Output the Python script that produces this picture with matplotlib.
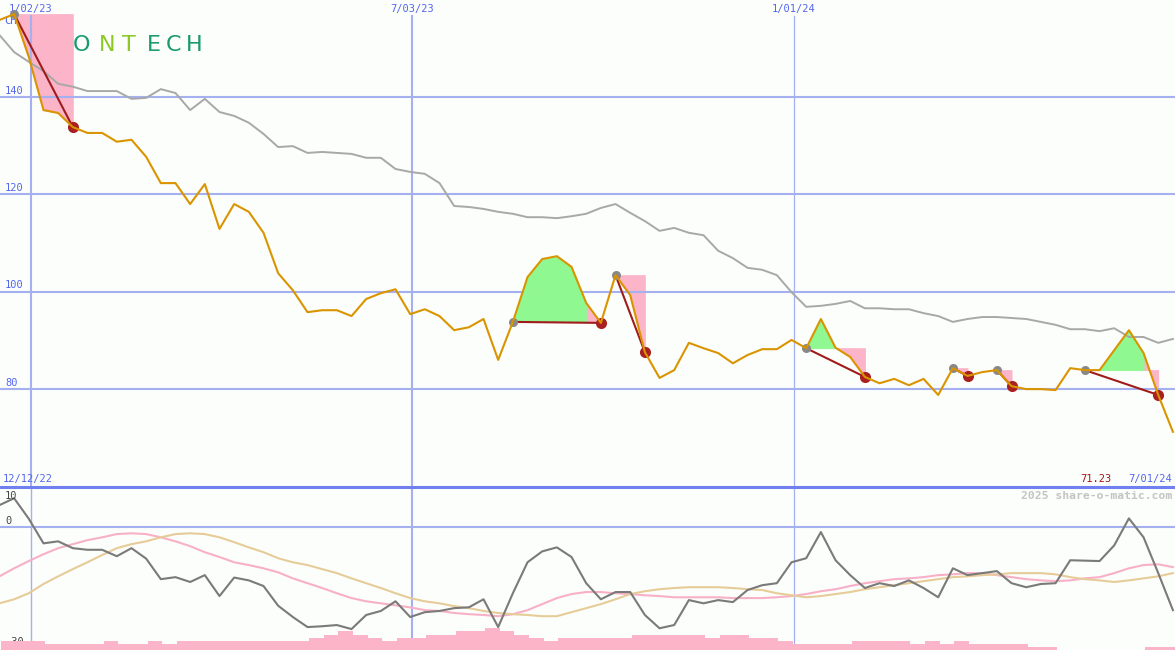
import numpy as np
import matplotlib
matplotlib.use("Agg")
import matplotlib.pyplot as plt
import matplotlib.dates as mdates
from matplotlib.lines import Line2D

# weekly closes, 12/18/22 .. 6/30/24
weeks = np.datetime64("2022-12-18") + np.arange(81) * np.timedelta64(7, "D")

price = [
    155.8, 157.0, 148.2, 137.3, 136.7, 133.8, 132.6, 132.6, 130.8, 131.2,
    127.7, 122.3, 122.3, 118.0, 122.1, 112.9, 118.0, 116.4, 112.1, 103.8,
    100.3, 95.8, 96.2, 96.2, 95.0, 98.5, 99.7, 100.5, 95.4, 96.4,
    95.0, 92.1, 92.7, 94.4, 86.0, 93.8, 103.0, 106.7, 107.3, 105.1,
    97.7, 93.6, 103.4, 99.3, 87.6, 82.3, 83.9, 89.5, 88.4, 87.4,
    85.3, 87.0, 88.2, 88.2, 90.1, 88.4, 94.4, 88.5, 86.6, 82.5,
    81.2, 82.1, 80.8, 82.1, 78.8, 84.3, 82.7, 83.5, 83.9, 80.6,
    80.0, 80.0, 79.8, 84.3, 83.9, 83.9, 88.0, 92.1, 87.4, 78.8,
    71.23,
]

bench = [
    152.7, 149.2, 147.2, 145.3, 142.7, 142.1, 141.2, 141.2, 141.2, 139.6,
    139.8, 141.6, 140.8, 137.3, 139.6, 136.9, 136.1, 134.7, 132.4, 129.7,
    129.9, 128.5, 128.7, 128.5, 128.3, 127.5, 127.5, 125.2, 124.6, 124.2,
    122.3, 117.6, 117.4, 117.0, 116.4, 116.0, 115.3, 115.3, 115.1, 115.5,
    116.0, 117.2, 118.0, 116.2, 114.5, 112.5, 113.1, 112.1, 111.6, 108.4,
    106.9, 104.9, 104.5, 103.4, 99.9, 96.9, 97.1, 97.5, 98.1, 96.6,
    96.6, 96.4, 96.4, 95.6, 95.0, 93.8, 94.4, 94.8, 94.8, 94.6,
    94.4, 93.8, 93.2, 92.3, 92.3, 91.9, 92.5, 90.7, 90.7, 89.5,
    90.3,
]

momentum = [
    5.5, 7.2, 2.1, -4.0, -3.5, -5.2, -5.6, -5.6, -7.2, -5.2,
    -7.8, -12.9, -12.4, -13.6, -11.9, -17.1, -12.5, -13.2, -14.6, -19.5,
    -22.3, -24.8, -24.6, -24.3, -25.3, -21.8, -20.8, -18.4, -22.3, -21.1,
    -20.8, -20.1, -19.9, -17.9, -24.8, -16.4, -8.7, -6.0, -5.0, -7.4,
    -13.9, -17.9, -16.1, -16.1, -21.8, -25.1, -24.3, -18.1, -18.9, -18.1,
    -18.6, -15.6, -14.4, -13.9, -8.7, -7.7, -1.2, -8.2, -11.9, -15.1,
    -13.9, -14.6, -13.2, -15.1, -17.4, -10.2, -11.9, -11.4, -10.9, -13.9,
    -14.9, -14.1, -13.9, -8.2, -8.3, -8.4, -4.5, 2.2, -2.5, -11.4,
    -20.6,
]

signal_fast = [
    -12.2, -10.2, -8.4, -6.7, -5.2, -4.2, -3.2, -2.5, -1.7, -1.5,
    -1.7, -2.5, -3.5, -4.7, -6.2, -7.4, -8.7, -9.4, -10.2, -11.2,
    -12.7, -13.9, -15.1, -16.4, -17.6, -18.4, -18.9, -19.4, -19.9, -20.6,
    -20.8, -21.3, -21.6, -21.8, -22.1, -21.6, -20.6, -19.1, -17.6, -16.6,
    -16.1, -16.1, -16.4, -16.6, -16.9, -17.1, -17.4, -17.4, -17.4, -17.4,
    -17.6, -17.6, -17.6, -17.4, -17.1, -16.6, -15.9, -15.4, -14.6, -13.9,
    -13.4, -12.9, -12.7, -12.4, -11.9, -11.7, -11.4, -11.4, -11.9, -12.4,
    -12.9, -13.2, -13.4, -13.2, -12.7, -12.4, -11.4, -10.2, -9.4, -9.2,
    -9.9,
]

signal_slow = [
    -18.9, -17.9, -16.4, -14.1, -12.2, -10.4, -8.7, -6.9, -5.2, -4.2,
    -3.5, -2.5, -1.7, -1.5, -1.7, -2.5, -3.7, -5.0, -6.2, -7.7,
    -8.7, -9.4, -10.4, -11.4, -12.7, -13.9, -15.1, -16.4, -17.6, -18.4,
    -18.9, -19.6, -20.1, -20.8, -21.3, -21.6, -21.8, -22.1, -22.1, -21.1,
    -20.1, -19.1, -17.9, -16.6, -15.9, -15.4, -15.1, -14.9, -14.9, -14.9,
    -15.1, -15.4, -15.6, -16.4, -16.9, -17.4, -17.1, -16.6, -16.1, -15.4,
    -14.9, -14.4, -13.9, -13.4, -12.9, -12.4, -12.2, -11.9, -11.7, -11.4,
    -11.4, -11.4, -11.7, -12.4, -12.9, -13.2, -13.6, -13.2, -12.7, -12.2,
    -11.4,
]

volume = [
    3, 3, 3, 2, 2, 2, 2, 3, 2, 2,
    3, 2, 3, 3, 3, 3, 3, 3, 3, 3,
    3, 4, 5, 6, 5, 4, 3, 4, 4, 5,
    5, 6, 6, 7, 6, 5, 4, 3, 4, 4,
    4, 4, 4, 5, 5, 5, 5, 5, 4, 5,
    5, 4, 4, 3, 2, 2, 2, 2, 3, 3,
    3, 3, 2, 3, 2, 3, 2, 2, 2, 2,
    1, 1, 0, 0, 0, 0, 0, 0, 1, 1,
    1,
]

# (entry week, exit week)
trades = [(1, 5), (35, 41), (42, 44), (55, 59), (65, 66), (68, 69), (74, 79)]

price_levels = [80, 100, 120, 140]
grid_dates = ["2023-01-02", "2023-07-03", "2024-01-01"]
grid_labels = ["1/02/23", "7/03/23", "1/01/24"]

bg = "#fcfefb"
grid_c = "#a4b0f0"
label_c = "#5466ee"
pink = "#fbb4c8"
green = "#90f890"
mono = "DejaVu Sans Mono"

x = mdates.date2num(weeks)
gx = mdates.date2num(np.array(grid_dates, dtype="datetime64[D]"))
x0 = mdates.date2num(np.datetime64("2022-12-18T06:00"))
x1 = mdates.date2num(np.datetime64("2024-07-01"))

fig = plt.figure(figsize=(11.75, 6.5), dpi=100)
fig.patch.set_facecolor(bg)

ax = fig.add_axes([0, 163 / 650, 1, 487 / 650])
ax2 = fig.add_axes([0, 0, 1, 163 / 650])
for a in (ax, ax2):
    a.set_facecolor(bg)
    a.set_xlim(x0, x1)
    a.set_xticks([])
    a.set_yticks([])
    for s in a.spines.values():
        s.set_visible(False)

# ---- main panel ----
ax.set_ylim(59.9, 159.9)
for lv in price_levels:
    ax.axhline(lv, color=grid_c, lw=1.5, zorder=1.5)
    ax.text(5 / 1175, lv + 1.3, str(lv), transform=ax.get_yaxis_transform(),
            fontsize=7.5, family=mono, color=label_c, va="center", zorder=1.5)
for xv, lw in zip(gx, [1.5, 1.5, 0.9]):
    ax.axvline(xv, ymax=1 - 16 / 487, color=grid_c, lw=lw, zorder=1.5)
for xv, lab in zip(gx, grid_labels):
    ax.text(xv, 1 - 9 / 487, lab, transform=ax.get_xaxis_transform(),
            fontsize=7.5, family=mono, color=label_c, ha="center", va="center")

ax.text(4 / 1175, 155.6, "CHF", transform=ax.get_yaxis_transform(),
        fontsize=7.5, family=mono, color=label_c, va="center", zorder=0.6)

# logo, first letter sits under the pink fill
logo = [("C", 52, "#1a9a70"), ("O", 73, "#1a9a70"), ("N", 99, "#8cc828"),
        ("T", 122, "#8cc828"), ("E", 147, "#1a9a70"), ("C", 166, "#1a9a70"),
        ("H", 186, "#1a9a70")]
for ch, px, col in logo:
    ax.text(px / 1175, 1 - 45 / 487, ch, transform=ax.transAxes, fontsize=16,
            color=col, va="center", ha="left", zorder=0.5)

for i, j in trades:
    entry = price[i]
    for s in range(i, j):
        up = price[s + 1] >= entry
        col = green if up else pink
        ax.fill_between(x[s:s + 2], price[s:s + 2], entry,
                        facecolor=col, edgecolor=col, lw=0.6,
                        zorder=2 if up else 1)
    ax.plot([x[i], x[j]], [price[i], price[j]], color="#a01c1c", lw=1.5, zorder=3.5)
    ax.plot(x[i], price[i], "o", color="#888888", ms=6.5, mew=0, zorder=3.6)
    ax.plot(x[j], price[j], "o", color="#a82020", ms=8, mew=0, zorder=3.6)

ax.plot(x, bench, color="#a8a8a8", lw=1.4, zorder=3)
ax.plot(x, price, color="#da9400", lw=1.5, zorder=4)

ax.text(3 / 1175, 8 / 487, "12/12/22", transform=ax.transAxes,
        fontsize=7.5, family=mono, color=label_c, va="center")
ax.text(1112 / 1175, 8 / 487, "71.23", transform=ax.transAxes,
        fontsize=7.5, family=mono, color="#a01818", va="center", ha="right")
ax.text(1172 / 1175, 8 / 487, "7/01/24", transform=ax.transAxes,
        fontsize=7.5, family=mono, color=label_c, va="center", ha="right")

# ---- lower panel ----
ax2.set_ylim(-30.5, 10)
ax2.axhline(0, color=grid_c, lw=1.5, zorder=1)
for xv, lw in zip(gx, [1.0, 1.5, 0.9]):
    ax2.axvline(xv, color=grid_c, lw=lw, zorder=1)

ax2.plot(x, signal_fast, color="#f8b0c8", lw=1.5, zorder=2)
ax2.plot(x, signal_slow, color="#e6cc98", lw=1.5, zorder=2.1)
ax2.plot(x, momentum, color="#7a7a7a", lw=1.5, zorder=3)

for val, yf in [("10", 1 - 9 / 163), ("0", 1 - 34 / 163), ("-30", 8 / 163)]:
    ax2.text(5 / 1175, yf, val, transform=ax2.transAxes, fontsize=7.5,
             family=mono, color="#444444", va="center", zorder=4)
ax2.text(1172 / 1175, 1 - 9 / 163, "2025 share-o-matic.com", transform=ax2.transAxes,
         fontsize=8.2, family=mono, color="#c4c4c4", fontweight="bold",
         va="center", ha="right")

ax3 = ax2.twinx()
ax3.set_ylim(0, 52.6)
ax3.bar(x + 0.7, volume, width=7, align="edge", color=pink, lw=0)
ax3.set_xlim(x0, x1)
ax3.set_yticks([])
for s in ax3.spines.values():
    s.set_visible(False)

fig.add_artist(Line2D([0, 1], [163 / 650, 163 / 650], transform=fig.transFigure,
                      color="#7080f0", lw=2.2))

fig.savefig("out.png", dpi=100, facecolor=bg)
